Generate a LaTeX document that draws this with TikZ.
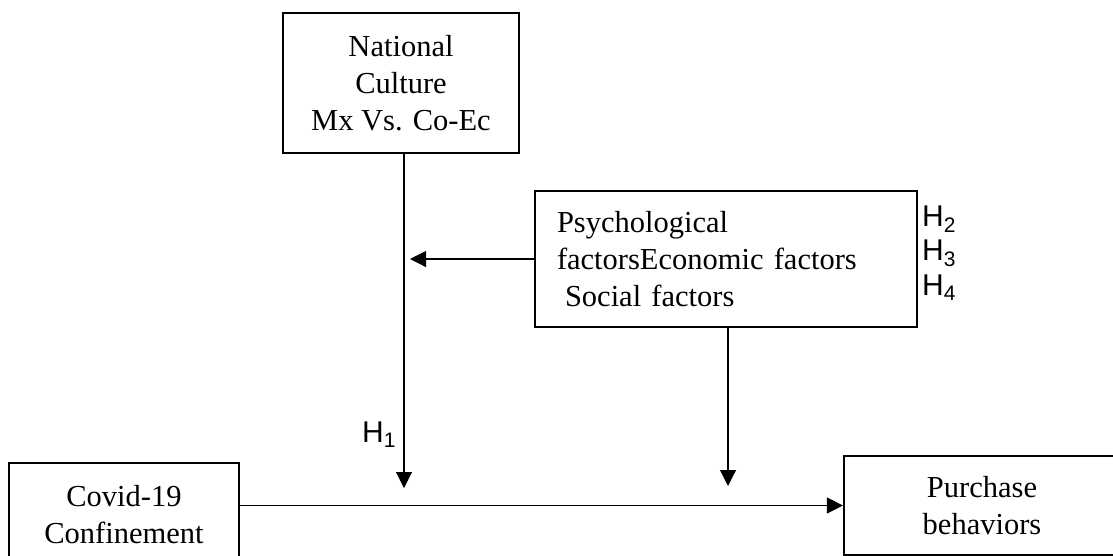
\documentclass[tikz,border=0pt]{standalone}
\usepackage{fontspec}
\setmainfont{Liberation Serif}
\newfontfamily\hfont{Liberation Sans}
\usetikzlibrary{arrows.meta}

\begin{document}
\begin{tikzpicture}[x=1pt,y=-1pt,
  box/.style={draw,line width=2.2pt,font=\fontsize{30.5}{37}\selectfont,align=center,inner sep=0pt},
  link/.style={line width=1.1pt,-{Triangle[length=16pt,width=16pt]}},
  hyp/.style={font=\hfont\fontsize{30}{34}\selectfont,inner sep=0pt}]
  \useasboundingbox (0,0) rectangle (1113,555);

  \node[box,minimum width=236pt,minimum height=140pt] (culture) at (401,83) {National\\Culture\\Mx Vs. Co-Ec};
  \node[box,minimum width=382pt,minimum height=136pt,text width=338pt,align=left] (factors) at (726,259)
    {Psychological\\factorsEconomic factors\\\hspace*{8pt}Social factors};
  \node[box,minimum width=230pt,minimum height=104pt] (covid) at (124,515) {Covid-19\\Confinement};
  \node[box,minimum width=276pt,minimum height=99pt] (purchase) at (982,505.5) {Purchase\\behaviors};

  \coordinate (t1) at (404,488);
  \coordinate (t2) at (728,486);

  \draw[link] (culture.south -| t1) -- (t1);
  \draw[link] (factors.south -| t2) -- (t2);
  \draw[link] (factors.west) -- ([xshift=6pt]factors.west -| t1);
  \draw[link] (covid.east |- purchase.west) -- (purchase.west);

  \node[hyp,anchor=base west] (h1) at (362,442) {H\textsubscript{1}};
  \node[hyp,anchor=base west] (h2) at (922,226) {H\textsubscript{2}};
  \node[hyp,anchor=base west] (h3) at (922,260) {H\textsubscript{3}};
  \node[hyp,anchor=base west] (h4) at (922,295) {H\textsubscript{4}};
\end{tikzpicture}
\end{document}
